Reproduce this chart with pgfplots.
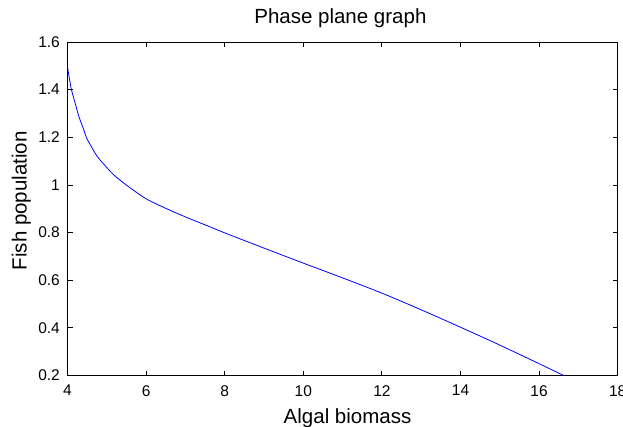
\documentclass[border=0pt]{standalone}
\usepackage{pgfplots}
\pgfplotsset{compat=1.18}
\usepackage{fontspec}
\setmainfont{Liberation Sans}
\begin{document}
\begin{tikzpicture}[x=1pt,y=1pt]
\path[use as bounding box] (0,0) rectangle (623,427);
\begin{axis}[
  at={(67.5pt,51.4pt)}, anchor=south west,
  scale only axis, width=550.2pt, height=333.6pt,
  xmin=4, xmax=18, ymin=0.2, ymax=1.6,
  xtick={4,6,...,18}, ytick={0.2,0.4,...,1.6},
  yticklabels={0.2,0.4,0.6,0.8,1,1.2,1.4,1.6},
  tick align=inside, major tick length=5pt,
  axis line style={line width=0.9pt},
  every tick/.style={line width=0.9pt, black},
  /pgf/number format/assume math mode=true,
  ticklabel style={font=\fontsize{15.5}{15.5}\selectfont},
  xticklabel style={inner sep=0pt, anchor=north, yshift=-9.4pt},
  yticklabel style={inner sep=0pt, anchor=east, xshift=-7.5pt},
  title={Phase plane graph},
  title style={font=\fontsize{20.5}{20.5}\selectfont, anchor=base, at={(axis description cs:0.496,1.038)}},
  xlabel={Algal biomass},
  xlabel style={font=\fontsize{20.5}{20.5}\selectfont, anchor=base, at={(axis description cs:0.509,-0.143)}},
  ylabel={Fish population},
  ylabel style={font=\fontsize{20.5}{20.5}\selectfont, anchor=base, at={(axis description cs:-0.0742,0.524)}},
]
\addplot[color={rgb,255:red,0;green,0;blue,255}, line width=0.8pt, smooth, tension=0.5] coordinates {
(4.00,1.496) (4.05,1.445) (4.10,1.400) (4.20,1.340) (4.29,1.287) (4.40,1.238)
(4.49,1.196) (4.60,1.163) (4.76,1.119) (5.00,1.073) (5.18,1.042) (5.40,1.012)
(5.61,0.986) (6.00,0.942) (6.50,0.902) (7.00,0.866) (7.63,0.824) (8.00,0.799)
(9.00,0.735) (10.00,0.672) (11.00,0.610) (12.00,0.546) (13.00,0.476)
(14.00,0.403) (15.00,0.328) (16.00,0.250) (16.63,0.200)
};
\end{axis}
\end{tikzpicture}
\end{document}
